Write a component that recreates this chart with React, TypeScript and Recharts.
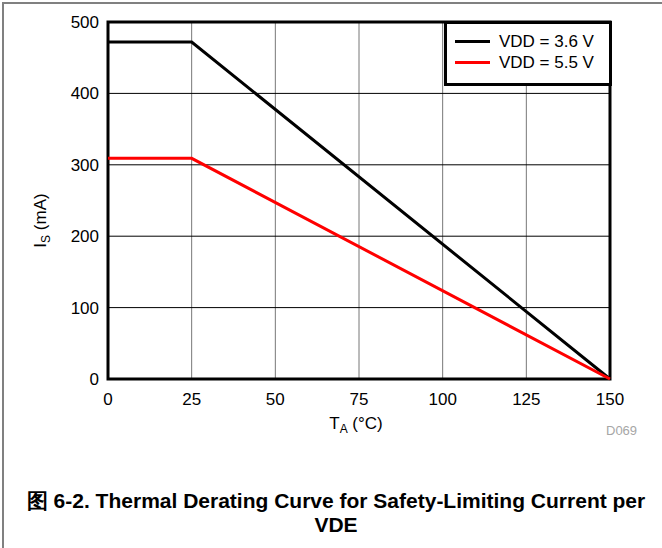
import React from "react";
import { CartesianGrid, Label, Legend, Line, LineChart, ReferenceArea, XAxis, YAxis } from "recharts";

const temps = [0, 25, 150];
const vdd36 = [472, 472, 0];
const vdd55 = [309, 309, 0];
const xTicks = [0, 25, 50, 75, 100, 125, 150];
const yTicks = [0, 100, 200, 300, 400, 500];

const SERIES = [
  { key: "vdd36", label: "VDD = 3.6 V", color: "#000000" },
  { key: "vdd55", label: "VDD = 5.5 V", color: "#ff0000" },
];

const data = temps.map((t, i) => ({ t, vdd36: vdd36[i], vdd55: vdd55[i] }));

const FONT = "'Liberation Sans', Arial, sans-serif";
const tickStyle = { fontSize: 17, fill: "#000", fontFamily: FONT };

function LegendBox() {
  return (
    <div
      style={{
        boxSizing: "border-box",
        width: 168,
        height: 65,
        border: "3px solid #000",
        background: "#fff",
        padding: "7px 0 0 8px",
        fontFamily: FONT,
        fontSize: 17,
        color: "#000",
      }}
    >
      {SERIES.map((s) => (
        <div key={s.key} style={{ display: "flex", alignItems: "center", height: 21 }}>
          <span style={{ display: "inline-block", width: 35, height: 3, background: s.color, marginRight: 9 }} />
          <span>{s.label}</span>
        </div>
      ))}
    </div>
  );
}

function YTitle(props: any) {
  const vb = props.viewBox || { x: 48, y: 22, height: 357 };
  const cx = vb.x - 2;
  const cy = vb.y + vb.height / 2 + 20;
  return (
    <text x={cx} y={cy} transform={`rotate(-90 ${cx} ${cy})`} textAnchor="middle" fontSize={17} fontFamily={FONT} fill="#000">
      I<tspan fontSize={12} dy={4}>S</tspan>
      <tspan dy={-4}> (mA)</tspan>
    </text>
  );
}

function XTitle(props: any) {
  const vb = props.viewBox || { x: 108, y: 379, width: 502 };
  const cx = vb.x + vb.width / 2 - 3;
  return (
    <g>
      <text x={cx} y={429} textAnchor="middle" fontSize={17} fontFamily={FONT} fill="#000">
        T<tspan fontSize={12} dy={4}>A</tspan>
        <tspan dy={-4}> (°C)</tspan>
      </text>
      <text x={606} y={435} fontSize={13} fontFamily={FONT} fill="#a6a6a6">
        D069
      </text>
    </g>
  );
}

export default function App() {
  return (
    <div style={{ position: "absolute", left: 0, top: 0, width: 662, height: 548, background: "#fff", fontFamily: FONT }}>
      <div
        style={{
          position: "absolute",
          left: 2,
          top: 2,
          width: 700,
          height: 600,
          borderTop: "2px solid #808080",
          borderLeft: "2px solid #808080",
        }}
      />
      <LineChart width={662} height={548} data={data} margin={{ top: 22, right: 52, left: 48, bottom: 139 }}>
        <CartesianGrid horizontal={false} stroke="#777" strokeWidth={1} verticalValues={xTicks} />
        <CartesianGrid vertical={false} stroke="#000" strokeWidth={1} horizontalValues={yTicks} />
        <XAxis
          type="number"
          dataKey="t"
          domain={[0, 150]}
          ticks={xTicks}
          height={30}
          tick={tickStyle}
          tickSize={0}
          tickMargin={14}
          axisLine={false}
          interval={0}
        >
          <Label content={<XTitle />} />
        </XAxis>
        <YAxis
          type="number"
          domain={[0, 500]}
          ticks={yTicks}
          width={60}
          tick={tickStyle}
          tickSize={0}
          tickMargin={9}
          axisLine={false}
          interval={0}
        >
          <Label content={<YTitle />} />
        </YAxis>
        {SERIES.map((s) => (
          <Line
            key={s.key}
            type="linear"
            dataKey={s.key}
            name={s.label}
            stroke={s.color}
            strokeWidth={3}
            dot={false}
            activeDot={false}
            isAnimationActive={false}
          />
        ))}
        <ReferenceArea x1={0} x2={150} y1={0} y2={500} fill="none" stroke="#000" strokeWidth={3} ifOverflow="visible" />
        <Legend
          layout="vertical"
          align="center"
          verticalAlign="middle"
          content={<LegendBox />}
          wrapperStyle={{ position: "absolute", left: 444, top: 21, width: 168, height: 65 }}
        />
      </LineChart>
      <div
        style={{
          position: "absolute",
          left: 0,
          top: 489,
          width: 672,
          textAlign: "center",
          fontWeight: "bold",
          fontSize: 21,
          lineHeight: "24px",
          color: "#000",
          whiteSpace: "nowrap",
        }}
      >
        图 6-2. Thermal Derating Curve for Safety-Limiting Current per
        <br />
        VDE
      </div>
    </div>
  );
}
